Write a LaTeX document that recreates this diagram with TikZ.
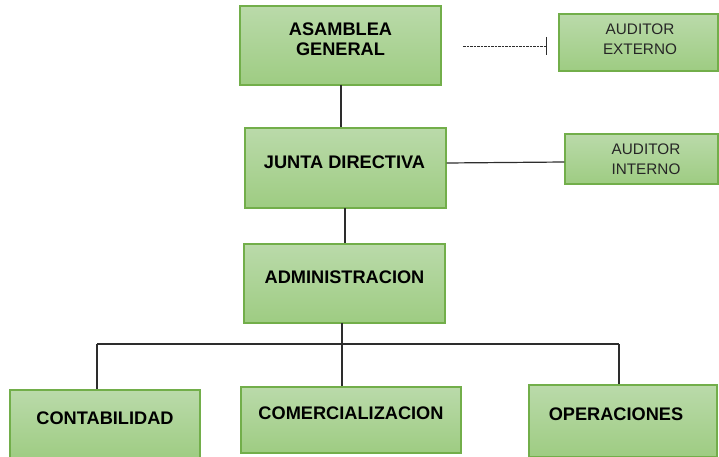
\documentclass[tikz,border=0pt]{standalone}
\usepackage{fontspec}
\setmainfont{Liberation Sans}
\usetikzlibrary{arrows.meta,calc}
\definecolor{boxtop}{RGB}{186,218,170}
\definecolor{boxbot}{RGB}{158,204,130}
\definecolor{boxline}{RGB}{114,174,74}
\definecolor{conn}{RGB}{45,45,45}
\tikzset{
  box/.style={draw=boxline, line width=1.2pt, top color=boxtop, bottom color=boxbot, inner sep=0pt},
  bigtxt/.style={font=\bfseries\fontsize{18.2}{19.5}\selectfont, align=center, inner sep=0pt, text=black},
  smalltxt/.style={font=\fontsize{15.3}{20}\selectfont, align=center, inner sep=0pt, text=black!85},
  conn/.style={draw=conn, line width=1.2pt}
}
\begin{document}
\begin{tikzpicture}[x=1pt,y=-1pt]
\useasboundingbox (0,0) rectangle (719,457);
% boxes
\node[box, minimum width=201pt, minimum height=79pt] (ag) at (340.5,45.5) {};
\node[bigtxt] (agt) at (340.5,39) {ASAMBLEA\\GENERAL};
\node[box, minimum width=159pt, minimum height=57pt] (ae) at (638.5,42.5) {};
\node[smalltxt] (aet) at (640,39.5) {AUDITOR\\EXTERNO};
\node[box, minimum width=201pt, minimum height=80pt] (jd) at (345.5,168) {};
\node[bigtxt] (jdt) at (344.5,162) {JUNTA DIRECTIVA};
\node[box, minimum width=153pt, minimum height=50pt] (ai) at (641.5,159) {};
\node[smalltxt] (ait) at (646,159.5) {AUDITOR\\INTERNO};
\node[box, minimum width=201pt, minimum height=79pt] (ad) at (344.5,283.5) {};
\node[bigtxt] (adt) at (344.5,277) {ADMINISTRACION};
\node[box, minimum width=190pt, minimum height=70pt] (co) at (105,425) {};
\node[bigtxt] (cot) at (105,418) {CONTABILIDAD};
\node[box, minimum width=220pt, minimum height=66pt] (cm) at (351,420) {};
\node[bigtxt] (cmt) at (351,413) {COMERCIALIZACION};
\node[box, minimum width=188pt, minimum height=72pt] (op) at (623,421) {};
\node[bigtxt] (opt) at (616,414) {OPERACIONES};
% connectors
\draw[conn] (341,85) coordinate (agb) -- (agb |- jd.north);
\draw[conn] (345,208) coordinate (jdb) -- (jdb |- ad.north);
\draw[conn] ($(jd.east)+(0,-5)$) -- ($(ai.west)+(0,3)$);
\coordinate (dstart) at (463,46);
\coordinate (dend) at (547,46);
\draw[conn, line width=0.9pt, dash pattern=on 2.5pt off 1pt, -{Bar[width=18pt,line width=1.2pt]}] (dstart) -- (dend);
\coordinate (hl) at (97,344);
\coordinate (hr) at (619,344);
\draw[conn] (342,323) coordinate (adb) -- (adb |- cm.north);
\draw[conn] (hl) -- (hr);
\draw[conn] (hl) -- (hl |- co.north);
\draw[conn] (hr) -- (hr |- op.north);
\end{tikzpicture}
\end{document}
